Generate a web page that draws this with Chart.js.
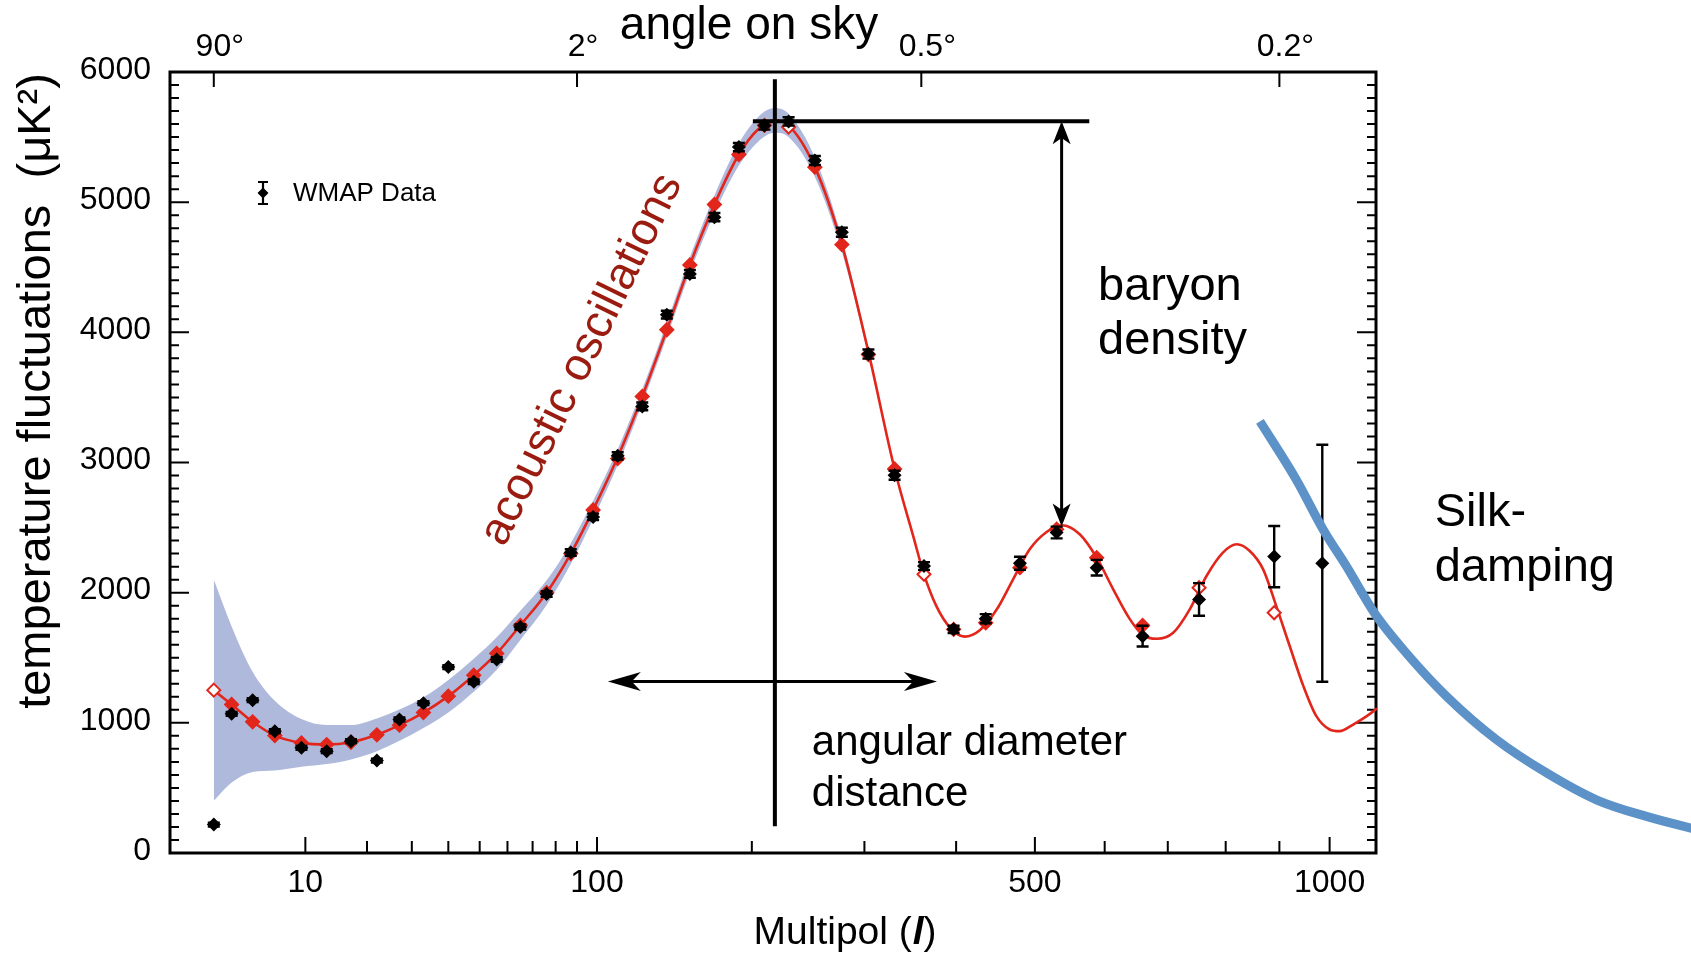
<!DOCTYPE html>
<html>
<head>
<meta charset="utf-8">
<title>CMB temperature power spectrum</title>
<script src="https://cdn.jsdelivr.net/npm/chart.js@4.4.1/dist/chart.umd.min.js"></script>
<style>
  html, body { margin: 0; padding: 0; background: #fff; }
  canvas { display: block; }
</style>
</head>
<body>
<canvas id="spectrum" width="1691" height="954"></canvas>
<script>
// ---------- data ----------
// WMAP binned points: multipole, D_l in uK^2, 1-sigma error
const dataL   = [2, 3, 4.5, 6.5, 9.5, 13, 17, 22, 27, 33, 40, 48, 56, 65, 76, 87, 98, 111, 125, 140,
                 155, 172, 190, 210, 230, 253, 278, 304, 331, 363, 397, 436, 480, 530, 588, 659, 753, 890, 985];
const dataT   = [218, 1069, 1174, 936, 808, 782, 859, 710, 1026, 1151, 1428, 1315, 1487, 1736, 1990, 2308, 2582, 3051, 3431, 4136,
                 4449, 4885, 5423, 5589, 5620, 5320, 4769, 3833, 2902, 2205, 1718, 1800, 2226, 2462, 2192, 1666, 1948, 2277, 2226];
const dataErr = [15, 15, 15, 15, 15, 15, 15, 15, 15, 15, 15, 18, 18, 20, 22, 25, 25, 28, 30, 30,
                 30, 32, 32, 32, 32, 35, 35, 35, 35, 30, 28, 35, 50, 45, 60, 80, 125, 235, 910];

// best-fit model averaged over the same bins (red diamonds)
const modelBin = [1251, 1141, 1008, 902, 846, 833, 851, 908, 982, 1079, 1205, 1366, 1533, 1749, 2000, 2300, 2636, 3030, 3508, 4020,
                  4518, 4982, 5366, 5590, 5577, 5269, 4674, 3830, 2950, 2141, 1718, 1769, 2192, 2487, 2269, 1748, 2038, 1846];
const openBins = [2, 230, 363, 753, 890];

// smooth model spectrum
const modelL = [2, 3, 4.5, 6.5, 9.5, 13, 17, 22, 27, 33, 40, 48, 56, 65, 76, 87, 98, 111, 125, 140, 155, 172, 190, 205, 218,
                230, 253, 278, 304, 331, 351, 363, 377, 393, 410, 429, 450, 471, 493, 516, 537, 563, 588, 613, 639, 660,
                682, 709, 737, 766, 795, 820, 844, 869, 894, 920, 947, 973, 1000, 1021, 1049, 1078, 1100];
const modelT = [1251, 1141, 1008, 902, 846, 833, 851, 908, 982, 1079, 1205, 1366, 1533, 1749, 2000, 2300, 2636, 3040, 3508, 4020, 4518, 4982, 5366, 5560, 5628,
                5590, 5269, 4674, 3850, 2950, 2436, 2141, 1897, 1731, 1662, 1713, 1872, 2103, 2333, 2466, 2518, 2449, 2269, 2026, 1795, 1672,
                1646, 1692, 1872, 2128, 2308, 2372, 2320, 2179, 1897, 1590, 1282, 1051, 949, 936, 987, 1051, 1110];

// cosmic variance band
const bandL    = [2, 3, 4.5, 6.5, 9.5, 13, 17, 22, 27, 33, 40, 48, 56, 65, 76, 87, 98, 111, 125, 140, 155, 172, 190, 205, 218, 230, 253, 278, 304];
const bandHigh = [2101, 1741, 1393, 1170, 1029, 983, 983, 1034, 1102, 1197, 1330, 1493, 1658, 1861, 2095, 2380, 2706, 3102, 3564, 4076,
                  4578, 5052, 5451, 5655, 5723, 5680, 5344, 4729, 3875];
const bandLow  = [401, 541, 623, 634, 663, 683, 719, 782, 862, 961, 1080, 1239, 1408, 1637, 1905, 2220, 2566, 2978, 3452, 3964,
                  4458, 4912, 5281, 5465, 5533, 5500, 5194, 4619, 3825];

// damping tail sketch
const silkL = [863, 933, 987, 1035, 1097, 1165, 1258, 1379, 1507, 1641, 1783, 1915, 2010];
const silkT = [3316, 2868, 2484, 2202, 1831, 1536, 1203, 870, 615, 409, 281, 192, 140];

// axes
const L_MIN = 0.486, L_MAX = 1098;
const xMajor = [10, 100, 500, 1000];
const xMinor = [20, 30, 40, 50, 60, 70, 80, 90, 200, 300, 400, 600, 700, 800, 900];
const angleL = [2, 90, 360, 900];
const angleLabels = ['90°', '2°', '0.5°', '0.2°'];
const yMajor = [0, 1000, 2000, 3000, 4000, 5000, 6000];

// guides
const peakL = 218.5, peakLevel = 5621;
const secondPeakL = 537, secondPeakLevel = 2509;
const spanFromL = 105.7, spanToL = 377.7, spanLevel = 1318;

const FONT = '"Liberation Sans", Arial, Helvetica, sans-serif';
const RED = '#e2261b';
const BAND = '#afb9dc';
const SILK = '#5d92c8';
const DARKRED = '#9a1b0f';

// ---------- x scale: pixel ~ l^0.4 ----------
const POW = 0.4;
class PowerScale extends Chart.LinearScale {
  _u(v) { return Math.pow(Math.max(v, 1e-9), POW); }
  getPixelForValue(value) {
    if (value === null || value === undefined || isNaN(value)) return NaN;
    const a = this._u(this.min), b = this._u(this.max);
    return this.getPixelForDecimal((this._u(value) - a) / (b - a));
  }
  getValueForPixel(pixel) {
    const a = this._u(this.min), b = this._u(this.max);
    return Math.pow(a + this.getDecimalForPixel(pixel) * (b - a), 1 / POW);
  }
}
PowerScale.id = 'power';
PowerScale.defaults = {};
Chart.register(PowerScale);

const pts = (xs, ys) => xs.map((x, i) => ({ x: x, y: ys[i] }));

// ---------- plugins ----------
function arrowHead(ctx, tx, ty, dx, dy, len, half) {
  const bx = tx - dx * len, by = ty - dy * len;
  const nx = -dy, ny = dx;
  ctx.beginPath();
  ctx.moveTo(tx, ty);
  ctx.lineTo(bx + nx * half, by + ny * half);
  ctx.lineTo(tx - dx * len * 0.72, ty - dy * len * 0.72);
  ctx.lineTo(bx - nx * half, by - ny * half);
  ctx.closePath();
  ctx.fill();
}

function say(ctx, str, x, y, size, opts) {
  opts = opts || {};
  ctx.font = (opts.style || '') + ' ' + size + 'px ' + FONT;
  ctx.fillStyle = opts.color || '#000';
  ctx.textAlign = opts.align || 'left';
  ctx.textBaseline = opts.baseline || 'alphabetic';
  ctx.fillText(str, x, y);
}

// frame and inward tick marks
const frameTicks = {
  id: 'frameTicks',
  beforeDatasetsDraw(chart) {
    const { ctx, chartArea: a } = chart;
    const x = chart.scales.x, y = chart.scales.y;
    ctx.save();
    ctx.strokeStyle = '#000';
    ctx.lineWidth = 2;
    ctx.beginPath();
    xMajor.forEach(v => { const p = x.getPixelForValue(v); ctx.moveTo(p, a.bottom); ctx.lineTo(p, a.bottom - 16); });
    xMinor.forEach(v => { const p = x.getPixelForValue(v); ctx.moveTo(p, a.bottom); ctx.lineTo(p, a.bottom - 12); });
    angleL.forEach(v => { const p = x.getPixelForValue(v); ctx.moveTo(p, a.top); ctx.lineTo(p, a.top + 15); });
    for (let v = 0; v <= 6000; v += 100) {
      const p = y.getPixelForValue(v);
      const len = v % 1000 === 0 ? 19 : 9;
      ctx.moveTo(a.left, p); ctx.lineTo(a.left + len, p);
      ctx.moveTo(a.right, p); ctx.lineTo(a.right - len, p);
    }
    ctx.stroke();
    ctx.lineWidth = 3;
    ctx.strokeRect(a.left, a.top, a.right - a.left, a.bottom - a.top);
    ctx.restore();
  }
};

// error bars of the WMAP points
const errorBars = {
  id: 'errorBars',
  afterDatasetDraw(chart, args) {
    if (chart.data.datasets[args.index].label !== 'WMAP Data') return;
    const { ctx } = chart;
    const x = chart.scales.x, y = chart.scales.y;
    ctx.save();
    ctx.strokeStyle = '#000';
    ctx.lineWidth = 2.4;
    ctx.beginPath();
    dataL.forEach((l, i) => {
      const px = x.getPixelForValue(l);
      const top = y.getPixelForValue(dataT[i] + dataErr[i]);
      const bot = y.getPixelForValue(dataT[i] - dataErr[i]);
      ctx.moveTo(px, top); ctx.lineTo(px, bot);
      ctx.moveTo(px - 6, top); ctx.lineTo(px + 6, top);
      ctx.moveTo(px - 6, bot); ctx.lineTo(px + 6, bot);
    });
    ctx.stroke();
    ctx.restore();
  }
};

// guide lines, arrows, labels
const notes = {
  id: 'notes',
  afterDraw(chart) {
    const { ctx, chartArea: a } = chart;
    const x = chart.scales.x, y = chart.scales.y;
    ctx.save();
    ctx.strokeStyle = '#000';
    ctx.fillStyle = '#000';

    // first peak position and height
    ctx.lineWidth = 4;
    ctx.beginPath();
    const px = x.getPixelForValue(peakL);
    ctx.moveTo(px, y.getPixelForValue(5945));
    ctx.lineTo(px, y.getPixelForValue(205));
    const hy = y.getPixelForValue(peakLevel);
    ctx.moveTo(x.getPixelForValue(200.8), hy);
    ctx.lineTo(x.getPixelForValue(577), hy);
    ctx.stroke();

    // baryon density arrow
    const vx = x.getPixelForValue(secondPeakL);
    const vTop = hy, vBot = y.getPixelForValue(secondPeakLevel);
    ctx.lineWidth = 3;
    ctx.beginPath();
    ctx.moveTo(vx, vTop + 15);
    ctx.lineTo(vx, vBot - 15);
    ctx.stroke();
    arrowHead(ctx, vx, vTop, 0, -1, 23, 9);
    arrowHead(ctx, vx, vBot, 0, 1, 23, 9);

    // angular diameter distance arrow
    const ay = y.getPixelForValue(spanLevel);
    const ax0 = x.getPixelForValue(spanFromL), ax1 = x.getPixelForValue(spanToL);
    ctx.beginPath();
    ctx.moveTo(ax0 + 22, ay);
    ctx.lineTo(ax1 - 22, ay);
    ctx.stroke();
    arrowHead(ctx, ax0, ay, -1, 0, 33, 9.5);
    arrowHead(ctx, ax1, ay, 1, 0, 33, 9.5);

    // in-plot labels
    say(ctx, 'baryon', x.getPixelForValue(590), y.getPixelForValue(4251), 47);
    say(ctx, 'density', x.getPixelForValue(590), y.getPixelForValue(3836), 47);
    say(ctx, 'angular diameter', x.getPixelForValue(250.3), y.getPixelForValue(756), 42);
    say(ctx, 'distance', x.getPixelForValue(250.3), y.getPixelForValue(358), 42);
    say(ctx, 'Silk-', x.getPixelForValue(1230), y.getPixelForValue(2509), 47);
    say(ctx, 'damping', x.getPixelForValue(1230), y.getPixelForValue(2087), 47);

    ctx.save();
    ctx.translate(x.getPixelForValue(92.4), y.getPixelForValue(3790));
    ctx.rotate(-64 * Math.PI / 180);
    say(ctx, 'acoustic oscillations', 0, 0, 46, { color: DARKRED, align: 'center', baseline: 'middle' });
    ctx.restore();

    // legend
    const lx = a.left + 93, ly = a.top + 121;
    ctx.lineWidth = 2.2;
    ctx.beginPath();
    ctx.moveTo(lx, ly - 11); ctx.lineTo(lx, ly + 11);
    ctx.moveTo(lx - 5, ly - 11); ctx.lineTo(lx + 5, ly - 11);
    ctx.moveTo(lx - 5, ly + 11); ctx.lineTo(lx + 5, ly + 11);
    ctx.stroke();
    ctx.beginPath();
    ctx.moveTo(lx, ly - 5.5); ctx.lineTo(lx + 5.5, ly); ctx.lineTo(lx, ly + 5.5); ctx.lineTo(lx - 5.5, ly);
    ctx.closePath();
    ctx.fill();
    say(ctx, 'WMAP Data', lx + 30, ly + 1, 26, { baseline: 'middle' });

    // titles
    say(ctx, 'angle on sky', 749, 38.5, 46, { align: 'center' });

    ctx.save();
    ctx.translate(50, 391);
    ctx.rotate(-Math.PI / 2);
    say(ctx, 'temperature fluctuations  (μK²)', 0, 0, 47, { align: 'center' });
    ctx.restore();

    ctx.font = '39px ' + FONT;
    const w1 = ctx.measureText('Multipol (').width;
    const w3 = ctx.measureText(')').width;
    ctx.font = 'italic 39px ' + FONT;
    const w2 = ctx.measureText('l').width + 3;
    const tx = 845 - (w1 + w2 + w3) / 2;
    say(ctx, 'Multipol (', tx, 944, 39);
    say(ctx, 'l', tx + w1 + 1, 944, 39, { style: 'italic bold' });
    say(ctx, ')', tx + w1 + w2, 944, 39);

    ctx.restore();
  }
};

// ---------- chart ----------
const lockRange = s => { s.min = L_MIN; s.max = L_MAX; };
const noPad = s => { s.paddingLeft = 0; s.paddingRight = 0; s.paddingTop = 0; s.paddingBottom = 0; };
const tickFont = { family: FONT, size: 32 };

new Chart(document.getElementById('spectrum'), {
  type: 'line',
  data: {
    datasets: [
      { label: 'band low', data: pts(bandL, bandLow), xAxisID: 'x', borderWidth: 0, pointRadius: 0,
        fill: false, cubicInterpolationMode: 'monotone', order: 6 },
      { label: 'band high', data: pts(bandL, bandHigh), xAxisID: 'x', borderWidth: 0, pointRadius: 0,
        fill: 0, backgroundColor: BAND, cubicInterpolationMode: 'monotone', order: 5 },
      { label: 'model', data: pts(modelL, modelT), xAxisID: 'x', borderColor: RED, borderWidth: 2.6,
        pointRadius: 0, fill: false, cubicInterpolationMode: 'monotone', order: 4 },
      { label: 'model bins', data: pts(dataL.slice(0, modelBin.length), modelBin), xAxisID: 'x', showLine: false,
        pointStyle: 'rectRot', pointRadius: 6.5, pointBorderWidth: 2, pointBorderColor: RED,
        pointBackgroundColor: modelBin.map((v, i) => openBins.includes(dataL[i]) ? '#fff' : RED), order: 3 },
      { label: 'WMAP Data', data: pts(dataL, dataT), xAxisID: 'x', showLine: false,
        pointStyle: 'rectRot', pointRadius: 7, pointBorderWidth: 0, pointBackgroundColor: '#000', order: 2 },
      { label: 'Silk damping', data: pts(silkL, silkT), xAxisID: 'x', borderColor: SILK, borderWidth: 9,
        pointRadius: 0, fill: false, cubicInterpolationMode: 'monotone', clip: false, order: 1 }
    ]
  },
  options: {
    responsive: false,
    animation: false,
    events: [],
    layout: { padding: { left: 0, right: 315, top: 0, bottom: 0 } },
    plugins: { legend: { display: false }, tooltip: { enabled: false } },
    scales: {
      x: {
        type: 'power', position: 'bottom', bounds: 'data',
        afterDataLimits: lockRange,
        afterBuildTicks: s => { lockRange(s); s.ticks = xMajor.concat(xMinor).sort((p, q) => p - q).map(v => ({ value: v })); },
        afterFit: s => { s.height = 101; noPad(s); },
        grid: { display: false, drawTicks: false },
        border: { display: false },
        ticks: { autoSkip: false, maxRotation: 0, padding: 11, font: tickFont, color: '#000',
                 callback: v => xMajor.includes(v) ? String(v) : '' }
      },
      xTop: {
        type: 'power', position: 'top', bounds: 'data',
        afterDataLimits: lockRange,
        afterBuildTicks: s => { lockRange(s); s.ticks = angleL.map(v => ({ value: v })); },
        afterFit: s => { s.height = 72; noPad(s); },
        grid: { display: false, drawTicks: false },
        border: { display: false },
        ticks: { autoSkip: false, maxRotation: 0, padding: 6, labelOffset: 6, font: tickFont, color: '#000',
                 callback: v => angleLabels[angleL.indexOf(v)] }
      },
      y: {
        type: 'linear', position: 'left', min: 0, max: 6000,
        afterBuildTicks: s => { s.ticks = yMajor.map(v => ({ value: v })); },
        afterFit: s => { s.width = 170; noPad(s); },
        grid: { display: false, drawTicks: false },
        border: { display: false },
        ticks: { padding: 19, labelOffset: -2, font: tickFont, color: '#000', callback: v => String(v) }
      }
    }
  },
  plugins: [frameTicks, errorBars, notes]
});
</script>
</body>
</html>
